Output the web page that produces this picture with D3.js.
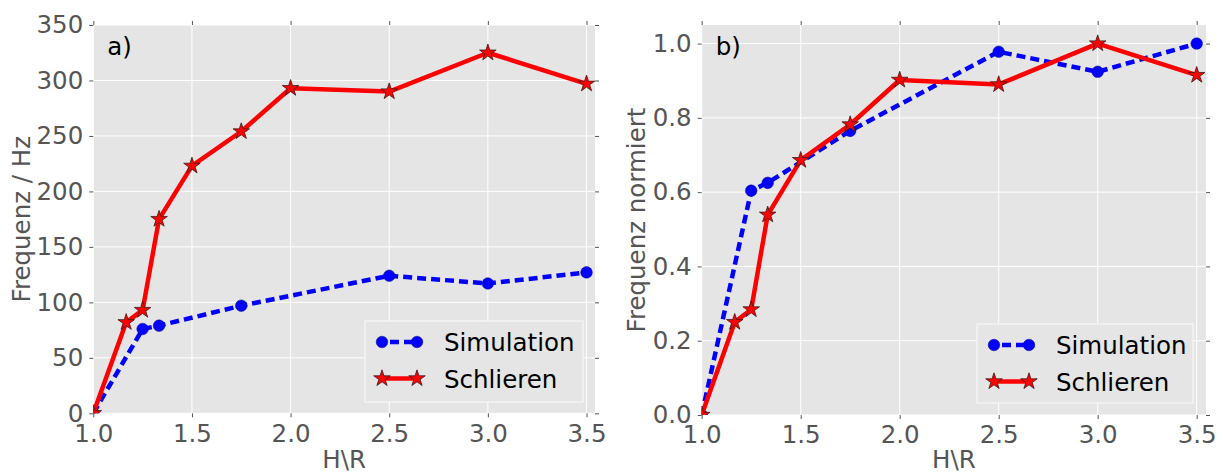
<html>
<head>
    <title>Frequenz über H\R</title>
    <script src="https://d3js.org/d3.v7.min.js"></script>
    <style>
        body { margin: 0; background: #fff; }
        text { font-family: "DejaVu Sans", sans-serif; }
    </style>
</head>
<body>
    <svg id="chart" width="1223" height="474"></svg>

    <script>
        // H\R values (x) of the two measurement series
        const schlierenX = [1.0, 1.1667, 1.25, 1.3333, 1.5, 1.75, 2.0, 2.5, 3.0, 3.5];
        const simulationX = [1.0, 1.25, 1.3333, 1.75, 2.5, 3.0, 3.5];

        // panel a) absolute frequency in Hz
        const schlierenHz = [0, 82, 93, 175, 223, 254, 293, 290, 325, 297];
        const simulationHz = [0, 76, 79, 97, 124, 117, 127];

        // panel b) normalised frequency
        const schlierenNorm = [0, 0.25, 0.284, 0.539, 0.686, 0.782, 0.902, 0.89, 1.0, 0.915];
        const simulationNorm = [0, 0.604, 0.625, 0.765, 0.978, 0.924, 1.0];

        const xTicks = [1.0, 1.5, 2.0, 2.5, 3.0, 3.5];
        const yTicksHz = [0, 50, 100, 150, 200, 250, 300, 350];
        const yTicksNorm = [0.0, 0.2, 0.4, 0.6, 0.8, 1.0];

        const svg = d3.select('svg#chart');
        const textColor = '#555555';
        const fontSize = '24.5px';

        const panels = [
            {
                id: 'a', label: 'a)', ylabel: 'Frequenz / Hz',
                left: 93.3, right: 595, top: 25, bottom: 413.3,
                xmax: 3.543, ymax: 350, yTicks: yTicksHz, fmt: d3.format('d'),
                sim: simulationHz, sch: schlierenHz,
                ylabelX: 30, legend: { x: 365, y: 321, w: 218, h: 81 }
            },
            {
                id: 'b', label: 'b)', ylabel: 'Frequenz normiert',
                left: 701.7, right: 1206, top: 25, bottom: 415,
                xmax: 3.547, ymax: 1.05, yTicks: yTicksNorm, fmt: d3.format('.1f'),
                sim: simulationNorm, sch: schlierenNorm,
                ylabelX: 645, legend: { x: 977, y: 324, w: 216, h: 79 }
            }
        ];

        const star = d3.symbol().type(d3.symbolStar).size(85);

        panels.forEach(p => {
            const x = d3.scaleLinear().domain([1, p.xmax]).range([p.left, p.right]);
            const y = d3.scaleLinear().domain([0, p.ymax]).range([p.bottom, p.top]);
            const w = p.right - p.left;
            const h = p.bottom - p.top;

            const g = svg.append('g');

            g.append('clipPath').attr('id', 'clip-' + p.id)
                .append('rect')
                .attr('x', p.left).attr('y', p.top)
                .attr('width', w).attr('height', h);

            g.append('rect')
                .attr('x', p.left).attr('y', p.top)
                .attr('width', w).attr('height', h)
                .attr('fill', '#e5e5e5');

            // grid
            g.selectAll('line.vgrid').data(xTicks).enter().append('line')
                .attr('x1', d => x(d)).attr('x2', d => x(d))
                .attr('y1', p.top).attr('y2', p.bottom)
                .attr('stroke', '#fff').attr('stroke-width', 1);
            g.selectAll('line.hgrid').data(p.yTicks).enter().append('line')
                .attr('x1', p.left).attr('x2', p.right)
                .attr('y1', d => y(d)).attr('y2', d => y(d))
                .attr('stroke', '#fff').attr('stroke-width', 1);

            // axes with outward ticks on all four sides
            const styleAxis = sel => {
                sel.select('.domain').remove();
                sel.selectAll('line').attr('stroke', textColor);
                sel.selectAll('text')
                    .attr('fill', textColor)
                    .style('font-family', '"DejaVu Sans", sans-serif')
                    .style('font-size', fontSize);
            };
            g.append('g').attr('transform', `translate(0, ${p.bottom})`)
                .call(d3.axisBottom(x).tickValues(xTicks).tickFormat(d3.format('.1f')).tickSize(4).tickPadding(7))
                .call(styleAxis);
            g.append('g').attr('transform', `translate(${p.left}, 0)`)
                .call(d3.axisLeft(y).tickValues(p.yTicks).tickFormat(p.fmt).tickSize(4).tickPadding(6))
                .call(styleAxis);
            g.append('g').attr('transform', `translate(0, ${p.top})`)
                .call(d3.axisTop(x).tickValues(xTicks).tickFormat('').tickSize(4))
                .call(styleAxis);
            g.append('g').attr('transform', `translate(${p.right}, 0)`)
                .call(d3.axisRight(y).tickValues(p.yTicks).tickFormat('').tickSize(4))
                .call(styleAxis);

            // axis labels
            g.append('text')
                .attr('x', (p.left + p.right) / 2).attr('y', 468)
                .attr('text-anchor', 'middle')
                .attr('fill', textColor).attr('font-size', fontSize)
                .text('H\\R');
            g.append('text')
                .attr('transform', `translate(${p.ylabelX}, ${(p.top + p.bottom) / 2}) rotate(-90)`)
                .attr('text-anchor', 'middle')
                .attr('fill', textColor).attr('font-size', fontSize)
                .text(p.ylabel);

            // series
            const plot = g.append('g').attr('clip-path', `url(#clip-${p.id})`);
            const simPts = simulationX.map((d, i) => [d, p.sim[i]]);
            const schPts = schlierenX.map((d, i) => [d, p.sch[i]]);
            const line = d3.line().x(d => x(d[0])).y(d => y(d[1]));

            plot.append('path').datum(simPts)
                .attr('d', line).attr('fill', 'none')
                .attr('stroke', '#0000ff').attr('stroke-width', 4.5)
                .attr('stroke-dasharray', '9,5');
            plot.selectAll('circle').data(simPts).enter().append('circle')
                .attr('cx', d => x(d[0])).attr('cy', d => y(d[1]))
                .attr('r', 5.8).attr('fill', '#0000ff')
                .attr('stroke', '#00008b').attr('stroke-width', 0.5);

            plot.append('path').datum(schPts)
                .attr('d', line).attr('fill', 'none')
                .attr('stroke', '#ff0000').attr('stroke-width', 4.5)
                .attr('stroke-linejoin', 'round');
            plot.selectAll('path.star').data(schPts).enter().append('path')
                .attr('class', 'star')
                .attr('d', star)
                .attr('transform', d => `translate(${x(d[0])}, ${y(d[1])})`)
                .attr('fill', '#ff0000')
                .attr('stroke', '#3a1a1a').attr('stroke-width', 0.8);

            // panel tag
            g.append('text')
                .attr('x', p.left + 14).attr('y', p.top + 30)
                .attr('fill', '#000').attr('font-size', fontSize)
                .text(p.label);

            // legend
            const L = p.legend;
            const lg = g.append('g').attr('transform', `translate(${L.x}, ${L.y})`);
            lg.append('rect')
                .attr('width', L.w).attr('height', L.h)
                .attr('fill', '#e5e5e5').attr('stroke', '#f3f3f3').attr('stroke-width', 1.5);
            const rows = [
                { name: 'Simulation', cy: 21, kind: 'sim' },
                { name: 'Schlieren', cy: 57.5, kind: 'sch' }
            ];
            rows.forEach(r => {
                const hx = [17, 52];
                const ln = lg.append('line')
                    .attr('x1', hx[0]).attr('x2', hx[1])
                    .attr('y1', r.cy).attr('y2', r.cy)
                    .attr('stroke-width', 4.5);
                if (r.kind === 'sim') {
                    ln.attr('stroke', '#0000ff').attr('stroke-dasharray', '9,5').attr('stroke-dashoffset', -8);
                    hx.forEach(cx => lg.append('circle')
                        .attr('cx', cx).attr('cy', r.cy).attr('r', 5.8)
                        .attr('fill', '#0000ff').attr('stroke', '#00008b').attr('stroke-width', 0.5));
                } else {
                    ln.attr('stroke', '#ff0000');
                    hx.forEach(cx => lg.append('path')
                        .attr('d', star)
                        .attr('transform', `translate(${cx}, ${r.cy})`)
                        .attr('fill', '#ff0000').attr('stroke', '#3a1a1a').attr('stroke-width', 0.8));
                }
                lg.append('text')
                    .attr('x', 79).attr('y', r.cy + 9)
                    .attr('fill', '#000').attr('font-size', fontSize)
                    .text(r.name);
            });
        });
    </script>
</body>
</html>
